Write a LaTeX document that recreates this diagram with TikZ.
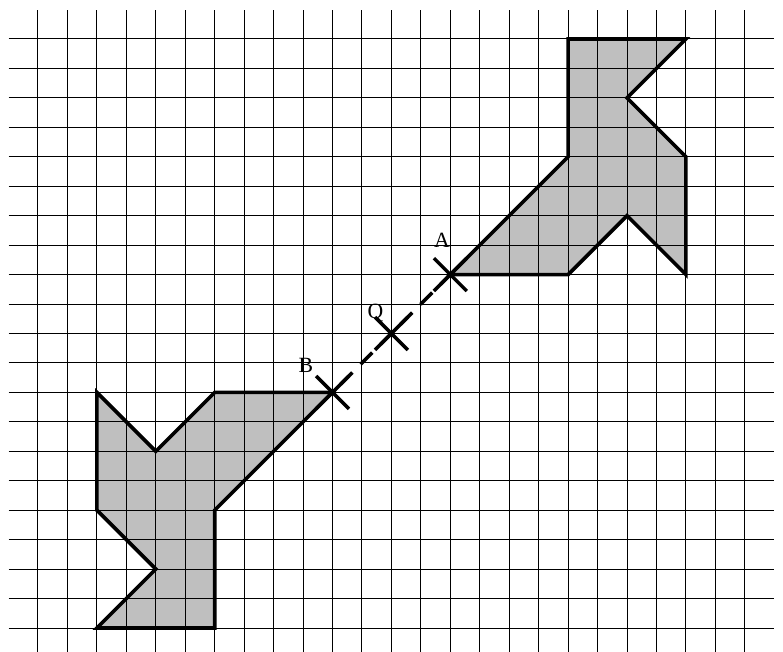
\documentclass[tikz,border=0pt]{standalone}
\usepackage{fontspec}
\setmainfont{Liberation Serif}
\usetikzlibrary{shapes.misc}
\definecolor{shadegray}{gray}{0.75}
\tikzset{
    % Grid lines - thin black
    gridline/.style={
        draw=black,
        line width=0.95pt
    },
    % Figure outline - thick black
    outline/.style={
        draw=black,
        line width=3.5pt,
        line join=miter
    },
    % Cross marking a point
    crossmark/.style={
        cross out,
        draw=black,
        line width=3.3pt,
        minimum size=1cm,
        inner sep=0pt
    },
    % Dashed line through the centre
    dashline/.style={
        draw=black,
        line width=3.3pt,
        dash pattern=on 16pt off 11.3pt,
        dash phase=16.2pt
    },
    % Point labels
    ptlabel/.style={
        font=\fontsize{21}{21}\selectfont,
        inner sep=0pt,
        anchor=base
    }
}

\begin{document}
\begin{tikzpicture}

    \useasboundingbox (-1.29,-0.815) rectangle (25.297,21.324);

    % ========== SHADED FIGURES ==========
    \fill[shadegray] (18,20) -- (22,20) -- (20,18) -- (22,16) -- (22,12) -- (20,14) -- (18,12) -- (14,12) -- (18,16) -- cycle;
    \fill[shadegray] (6,0) -- (2,0) -- (4,2) -- (2,4) -- (2,8) -- (4,6) -- (6,8) -- (10,8) -- (6,4) -- cycle;

    % ========== GRID ==========
    \foreach \x in {0,...,24}
        \draw[gridline] (\x,-0.815) -- (\x,21);
    \foreach \y in {0,...,20}
        \draw[gridline] (-1,\y) -- (25,\y);

    % ========== OUTLINES ==========
    \draw[outline] (18,20) -- (22,20) -- (20,18) -- (22,16) -- (22,12) -- (20,14) -- (18,12) -- (14,12) -- (18,16) -- cycle;
    \draw[outline] (6,0) -- (2,0) -- (4,2) -- (2,4) -- (2,8) -- (4,6) -- (6,8) -- (10,8) -- (6,4) -- cycle;

    % ========== POINTS ==========
    \coordinate (A) at (14,12);
    \coordinate (Q) at (12,10);
    \coordinate (B) at (10,8);

    \draw[dashline] (B) -- (A);

    \node[crossmark] (markA) at (A) {};
    \node[crossmark] (markQ) at (Q) {};
    \node[crossmark] (markB) at (B) {};

    \node[ptlabel] (labA) at ([shift={(-0.28,0.92)}]A) {A};
    \node[ptlabel] (labQ) at ([shift={(-0.54,0.5)}]Q) {Q};
    \node[ptlabel] (labB) at ([shift={(-0.9,0.66)}]B) {B};

\end{tikzpicture}
\end{document}
